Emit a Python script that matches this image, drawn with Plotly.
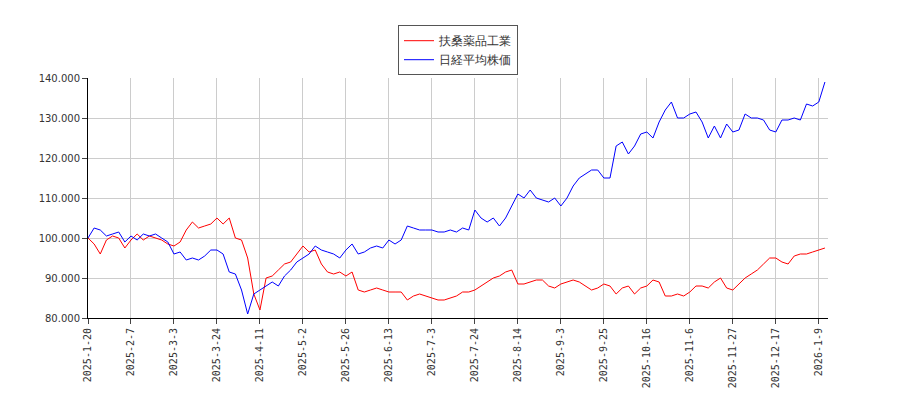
import plotly.graph_objects as go

tick_labels = ["2025-1-20", "2025-2-7", "2025-3-3", "2025-3-24", "2025-4-11", "2025-5-2",
               "2025-5-26", "2025-6-13", "2025-7-3", "2025-7-24", "2025-8-14", "2025-9-3",
               "2025-9-25", "2025-10-16", "2025-11-6", "2025-11-27", "2025-12-17", "2026-1-9"]

# index values sampled every 2 trading days (start = 100)
nikkei = [100, 102.5, 102, 100.5, 101, 101.5, 99,
          100.5, 99.5, 101, 100.5, 101, 100, 99,
          96, 96.5, 94.5, 95, 94.5, 95.5, 97,
          97, 96, 91.5, 91, 87, 81, 86,
          87, 88, 89, 88, 90.5, 92, 94,
          95, 96, 98, 97, 96.5, 96, 95,
          97, 98.5, 96, 96.5, 97.5, 98, 97.5,
          99.5, 98.5, 99.5, 103, 102.5, 102, 102,
          102, 101.5, 101.5, 102, 101.5, 102.5, 102,
          107, 105, 104, 105, 103, 105, 108,
          111, 110, 112, 110, 109.5, 109, 110,
          108, 110, 113, 115, 116, 117, 117,
          115, 115, 123, 124, 121, 123, 126,
          126.5, 125, 129, 132, 134, 130, 130,
          131, 131.5, 129, 125, 128, 125, 128.5,
          126.5, 127, 131, 130, 130, 129.5, 127,
          126.5, 129.5, 129.5, 130, 129.5, 133.5, 133,
          134, 139]
fuso = [100, 98.5, 96, 99.5, 100.5, 100, 97.5,
        99.5, 101, 99.5, 100.5, 100, 99.5, 98.5,
        98, 99, 102, 104, 102.5, 103, 103.5,
        105, 103.5, 105, 100, 99.5, 95, 86,
        82, 90, 90.5, 92, 93.5, 94, 96,
        98, 96.5, 97, 93.5, 91.5, 91, 91.5,
        90.5, 91.5, 87, 86.5, 87, 87.5, 87,
        86.5, 86.5, 86.5, 84.5, 85.5, 86, 85.5,
        85, 84.5, 84.5, 85, 85.5, 86.5, 86.5,
        87, 88, 89, 90, 90.5, 91.5, 92,
        88.5, 88.5, 89, 89.5, 89.5, 88, 87.5,
        88.5, 89, 89.5, 89, 88, 87, 87.5,
        88.5, 88, 86, 87.5, 88, 86, 87.5,
        88, 89.5, 89, 85.5, 85.5, 86, 85.5,
        86.5, 88, 88, 87.5, 89, 90, 87.5,
        87, 88.5, 90, 91, 92, 93.5, 95,
        95, 94, 93.5, 95.5, 96, 96, 96.5,
        97, 97.5]

x = list(range(0, 2 * len(nikkei), 2))
tickvals = [14 * i for i in range(len(tick_labels))]
yvals = [80, 90, 100, 110, 120, 130, 140]

fig = go.Figure()
fig.add_trace(go.Scatter(x=x, y=fuso, mode='lines', name='扶桑薬品工業', line=dict(color='red', width=1)))
fig.add_trace(go.Scatter(x=x, y=nikkei, mode='lines', name='日経平均株価', line=dict(color='blue', width=1)))
fig.update_layout(
    width=900, height=400, plot_bgcolor='white', paper_bgcolor='white',
    margin=dict(l=80, r=80, t=70, b=90),
    font=dict(family='DejaVu Sans', size=11, color='#333'),
    legend=dict(x=0.5, y=1.22, xanchor='center', yanchor='top', bordercolor='#555', borderwidth=1,
                font=dict(size=12)),
)
fig.update_xaxes(range=[0, 241], tickvals=tickvals, ticktext=tick_labels, tickangle=-90,
                 showgrid=True, gridcolor='#ccc', showline=True, linecolor='black', automargin=False,
                 ticks='outside', ticklen=5, tickfont=dict(family='DejaVu Sans Mono', size=10))
fig.update_yaxes(range=[80, 140], tickvals=yvals, ticktext=[f"{v:.3f}" for v in yvals],
                 showgrid=True, gridcolor='#ccc', showline=True, linecolor='black', automargin=False,
                 ticks='outside', ticklen=5, tickfont=dict(size=10))
fig.write_html("out.html")
